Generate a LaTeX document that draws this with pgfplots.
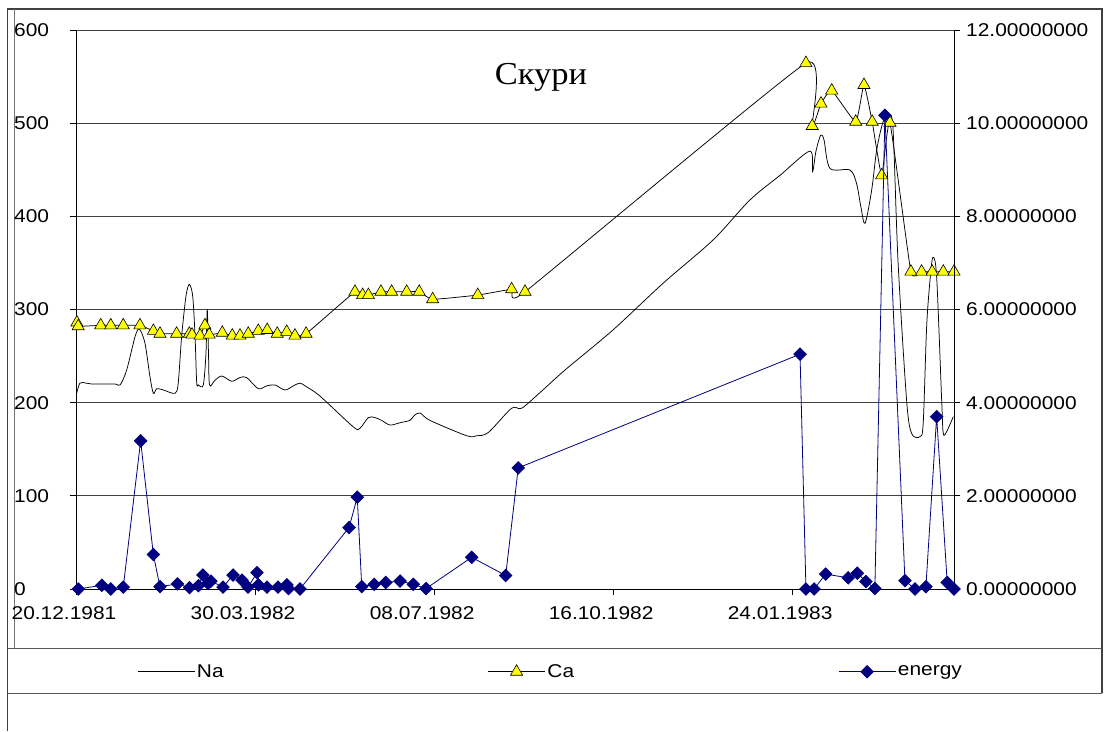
\documentclass[border=0pt]{standalone}
\usepackage{fontspec}
\setmainfont{Liberation Sans}[FakeStretch=1.13]
\newfontfamily\titlefont{Liberation Serif}[FakeStretch=1.08]
\usepackage{pgfplots}
\pgfplotsset{compat=1.18}

\definecolor{navyblue}{RGB}{0,0,128}
\definecolor{markyellow}{RGB}{255,255,0}

\newcommand{\lblfont}{\fontsize{18.5}{22}\selectfont}

\pgfplotsset{
  chartframe/.style={
    at={(76pt,142pt)}, anchor=south west,
    scale only axis, width=878pt, height=559pt,
    xmin=0, xmax=490.4,
    tick align=outside, major tick length=6pt,
    tick style={black, line width=0.8pt},
    axis line style={black, line width=0.9pt},
    tick label style={font=\lblfont},
    /pgf/number format/assume math mode=true,
  },
  nastyle/.style={black, line width=0.75pt, no markers},
  castyle/.style={black, line width=0.75pt, mark=triangle*, mark size=7pt,
    mark options={fill=markyellow, draw=black, line width=0.6pt}},
  enstyle/.style={navyblue, line width=0.8pt, mark=square*, mark size=4.4pt,
    mark options={rotate=45, fill=navyblue, draw=navyblue}},
}

\begin{document}
\begin{tikzpicture}[x=1pt,y=1pt]
\path[use as bounding box] (0,0) rectangle (1107,731);

% chart area and legend frames
\draw[black!75, line width=1.2pt] (7.5,0) -- (7.5,722) -- (1102,722) -- (1102,38);
\draw[black!55, line width=1pt] (14,83) -- (14,722);
\draw[black!65, line width=1pt] (7.5,83) -- (1102,83);
\draw[black!65, line width=1pt] (7.5,38) -- (1102,38);

% left axis: Na and Ca
\begin{axis}[chartframe,
  ymin=0, ymax=600,
  axis x line*=bottom, axis y line*=left,
  xtick={0,100,200,300,400},
  xticklabels={20.12.1981,30.03.1982,08.07.1982,16.10.1982,24.01.1983},
  xticklabel style={xshift=-12pt, yshift=-8pt},
  ytick={0,100,...,600},
  yticklabel style={anchor=west, inner sep=0pt, xshift=-56pt},
  ymajorgrids, major grid style={black!75, line width=0.8pt},
]
\addplot[nastyle, smooth] coordinates {
(0.4,210)(2.2,221)(5.6,221)(9.5,220)(21.8,220)(24.6,219)(28.3,235)(33.0,271)
(35.4,279)(38.5,264)(41.3,228)(43.2,210)(45.1,215)(48.8,213.6)(55.3,210)
(57.1,221)(59.0,271)(61.4,314)(63.3,327)(65.2,314)(66.5,271)(67.4,222)
(68.3,219)(71.1,219)(72.6,253)(73.3,300)(74.0,253)(74.6,219)(77.6,224)
(81.4,228.6)(87.0,223)(91.6,227)(95.3,227)(101.8,215)(106.5,218)(111.1,219)
(116.7,213.6)(121.4,218)(125.1,221)(128.8,217)(136.3,207)(154.9,174)
(158.6,172.5)(163.3,184)(167.0,184)(170.7,181)(175.4,176)(181.0,178.5)
(186.5,181)(188.8,186)(192.1,189)(197.7,181)(218.2,164.5)(223.8,164.5)
(230.3,168)(243.3,194)(248.9,194)(259.1,210.7)(273.1,235)(299.9,278)
(327.8,328)(355.8,374.6)(376.4,417.5)(393.2,444)(409.9,470)(411.4,448)
(413.3,470)(415.9,487)(417.8,482)(421.1,451.5)(432.3,449.7)(436.0,435)
(438.4,410)(440.7,392.5)(444.4,428)(447.2,471)(450.7,501)(453.7,507)
(456.3,495)(459.1,353)(463.9,203)(466.7,167)(471.4,163.5)(473.2,178)
(475.1,281)(477.0,331.6)(478.6,356)(480.7,335)(483.5,203)(484.4,167)
(486.3,169)(490.0,185)
};
\addplot[castyle, smooth, tension=0.25] coordinates {
(0.5,286)(1.2,282)(13.8,283)(19.4,283)(26.4,283)(35.7,283)(43.2,277)(46.9,274)
(56.2,274)(63.3,274)(64.8,273)(69.3,272)(72.0,283)(74.4,273)(81.7,275)
(87.3,272)(91.6,272)(96.2,274)(101.8,277)(106.8,278)(112.4,274)(117.7,276)
(122.3,272)(128.5,274)(155.8,319)(160.1,315.5)(163.3,315.5)(170.3,319)
(176.3,319)(184.7,319)(191.7,319)(199.2,311)(224.4,315.5)(243.3,321.7)
(250.8,319)(407.7,564.5)(411.2,497)(416.1,521)(422.1,535)(435.5,501.5)
(440.1,541)(444.7,501.5)(450.0,444)(454.6,500.5)(466.3,340.6)(472.3,340.6)
(478.2,340.6)(484.4,340.6)(490.4,340.6)
};
\node[font=\titlefont\fontsize{32}{36}\selectfont, anchor=base]
  at (axis cs:259.7,541) {Скури};
\end{axis}

% right axis: energy
\begin{axis}[chartframe,
  ymin=0, ymax=12,
  axis x line=none, axis y line*=right,
  ytick={0,2,...,12},
  yticklabel style={anchor=west, inner sep=0pt, xshift=6pt,
    /pgf/number format/.cd, fixed, fixed zerofill, precision=8},
  legend columns=3,
  legend image code/.code={
    \draw[mark repeat=2, mark phase=2, #1]
      plot coordinates {(0pt,0pt) (28.5pt,0pt) (57pt,0pt)};},
  legend style={draw=none, fill=none, font=\lblfont,
    at={(0.0695,-0.148)}, anchor=west, inner sep=0pt,
    /tikz/every even column/.append style={column sep=262pt}},
]
\addlegendimage{nastyle}
\addlegendentry{Na}
\addlegendimage{castyle}
\addlegendentry{Ca}
\addplot[enstyle] coordinates {
(1.3,0)(14.4,0.08)(19.4,0)(26.4,0.04)(36.1,3.18)(43.2,0.74)(46.9,0.05)
(56.7,0.11)(63.4,0.03)(68.4,0.07)(70.9,0.30)(73.7,0.12)(75.4,0.17)(82.1,0.04)
(87.7,0.30)(92.7,0.19)(96.1,0.04)(101.1,0.35)(101.9,0.09)(106.7,0.04)
(112.8,0.04)(117.8,0.09)(118.7,0.01)(125.1,0)(152.5,1.32)(157.1,1.97)
(159.6,0.05)(166.6,0.10)(173.0,0.14)(181.0,0.17)(188.4,0.10)(195.5,0.01)
(221.0,0.68)(240.0,0.29)(247.0,2.60)(404.4,5.04)(407.7,0)(412.3,0)
(418.7,0.32)(431.3,0.24)(436.4,0.34)(441.2,0.16)(446.2,0.01)(451.8,10.17)
(463.0,0.18)(468.6,0)(474.7,0.05)(480.7,3.70)(486.6,0.14)(490.4,0)
};
\addlegendentry{energy}
\end{axis}
\end{tikzpicture}
\end{document}
